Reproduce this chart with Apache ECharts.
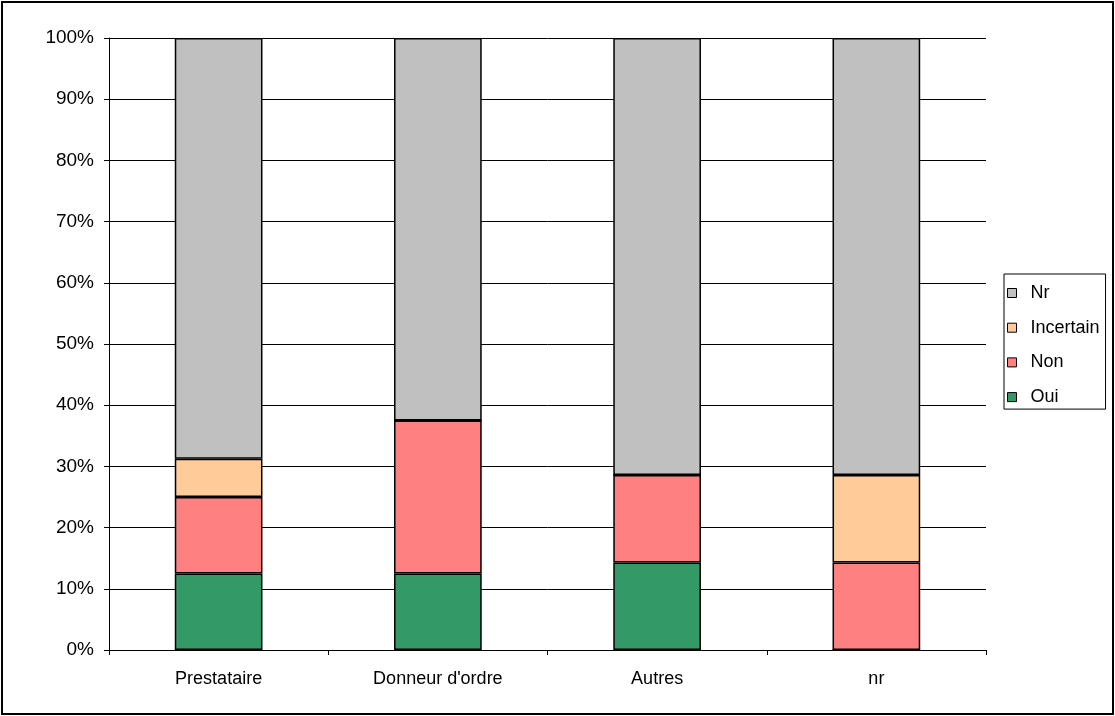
<!DOCTYPE html>
<html>
<head>
<meta charset="utf-8">
<script src="https://cdn.jsdelivr.net/npm/echarts@6/dist/echarts.min.js"></script>
<style>
  html, body { margin: 0; padding: 0; background: #fff; }
  #chart { width: 1115px; height: 716px; }
</style>
</head>
<body>
<div id="chart"></div>
<script>
// Categories along the x axis
const categories = ['Prestataire', "Donneur d'ordre", 'Autres', 'nr'];

// Shares per answer, in percent of each category
const oui       = [12.5, 12.5, 14.29, 0];
const non       = [12.5, 25, 14.29, 14.29];
const incertain = [6.25, 0, 0, 14.29];
const nr        = [68.75, 62.5, 71.42, 71.42];

// Legend order, top to bottom
const legendOrder = ['Nr', 'Incertain', 'Non', 'Oui'];

const colors = {
  Oui: '#339966',
  Non: '#FF8080',
  Incertain: '#FFCC99',
  Nr: '#C0C0C0'
};

const FONT = '"Liberation Sans", Arial, sans-serif';

function barSeries(name, values) {
  return {
    name: name,
    type: 'bar',
    stack: 'total',
    barWidth: '40%',
    data: values,
    itemStyle: { color: colors[name], borderColor: '#000', borderWidth: 1.5 },
    emphasis: { disabled: true }
  };
}

const chart = echarts.init(document.getElementById('chart'), null, { renderer: 'canvas' });
chart.setOption({
  animation: false,
  backgroundColor: '#fff',
  grid: { left: 109, right: 129, top: 38, bottom: 66, containLabel: false },
  legend: {
    orient: 'vertical',
    left: 1004,
    top: 274,
    data: legendOrder,
    itemWidth: 9,
    itemHeight: 9,
    itemGap: 14.7,
    padding: [9, 6, 2, 3],
    borderColor: '#000',
    borderWidth: 1,
    backgroundColor: '#fff',
    icon: 'rect',
    itemStyle: { borderColor: '#000', borderWidth: 1 },
    textStyle: { fontFamily: FONT, fontSize: 18, color: '#000', lineHeight: 20, padding: [0, 0, 0, 9] },
    selectedMode: false
  },
  xAxis: {
    type: 'category',
    data: categories,
    boundaryGap: true,
    axisLine: { lineStyle: { color: '#000', width: 1 } },
    axisTick: { show: true, length: 5, lineStyle: { color: '#000' } },
    axisLabel: { fontFamily: FONT, fontSize: 18, color: '#000', margin: 20 },
    splitLine: { show: false }
  },
  yAxis: {
    type: 'value',
    min: 0,
    max: 100,
    interval: 10,
    axisLine: { show: true, lineStyle: { color: '#000', width: 1 } },
    axisTick: { show: true, length: 5, lineStyle: { color: '#000' } },
    axisLabel: { fontFamily: FONT, fontSize: 19, color: '#000', margin: 15, formatter: '{value}%' },
    splitLine: { show: true, lineStyle: { color: '#000', width: 1 } }
  },
  series: [
    barSeries('Oui', oui),
    barSeries('Non', non),
    barSeries('Incertain', incertain),
    barSeries('Nr', nr)
  ],
  graphic: [{
    type: 'rect',
    silent: true,
    shape: { x: 2, y: 2, width: 1111, height: 712 },
    style: { fill: 'none', stroke: '#000', lineWidth: 2 },
    z: 100
  }]
});
</script>
</body>
</html>
